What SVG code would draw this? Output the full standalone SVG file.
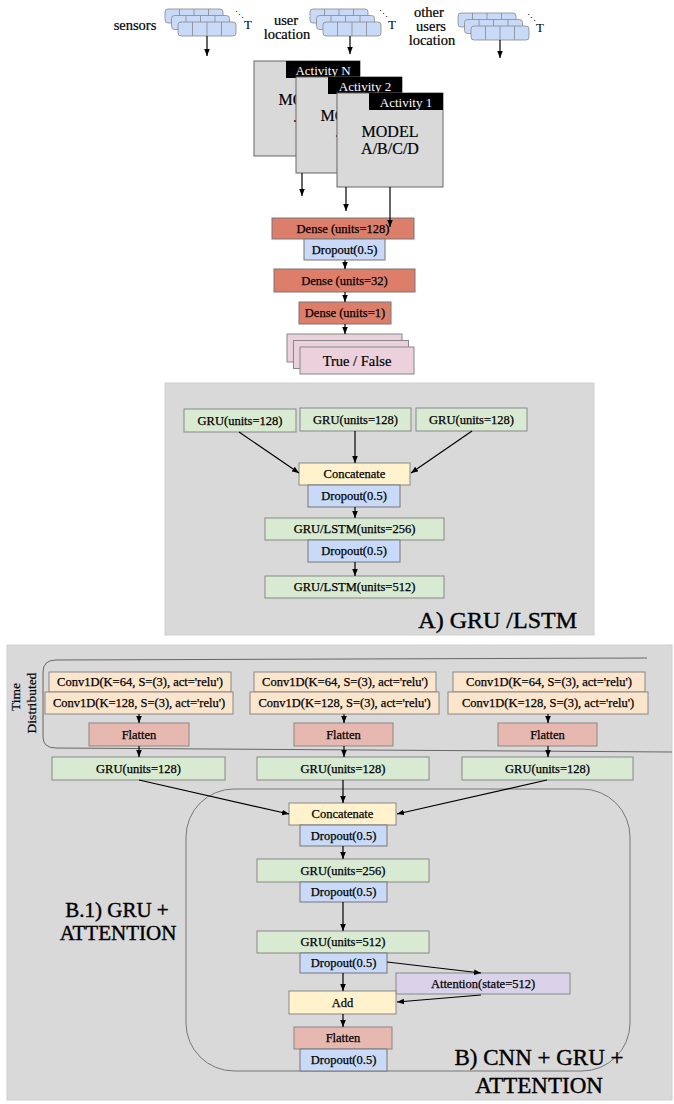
<svg xmlns="http://www.w3.org/2000/svg" width="674" height="1104" viewBox="0 0 674 1104">
<style>
text{font-family:"Liberation Serif","Times New Roman",serif;fill:#000}
.b{font-size:12.5px;text-anchor:middle;dominant-baseline:central;stroke:#000;stroke-width:0.25}
.lbl{font-size:14.5px;text-anchor:middle;dominant-baseline:central;stroke:#000;stroke-width:0.2}
.act{font-size:13px;text-anchor:middle;dominant-baseline:central;fill:#fff}
.mod{font-size:16px;text-anchor:middle;stroke:#000;stroke-width:0.2}
.big{font-size:23px;text-anchor:middle;stroke:#000;stroke-width:0.4}
.dense{fill:#dd7e6b;stroke:#777;stroke-width:1}
.drop{fill:#c9daf8;stroke:#777;stroke-width:1}
.gru{fill:#d9ead3;stroke:#888;stroke-width:1}
.cat{fill:#fff2cc;stroke:#888;stroke-width:1}
.conv{fill:#fce5cd;stroke:#888;stroke-width:1}
.flat{fill:#e6b8af;stroke:#888;stroke-width:1}
.att{fill:#d9d2e9;stroke:#888;stroke-width:1}
.tf{fill:#ead1dc;stroke:#888;stroke-width:1}
.model{fill:#d9d9d9;stroke:#666;stroke-width:1}
.panel{fill:#d9d9d9;stroke:#cfcfcf;stroke-width:1}
.c line,.c path{stroke:#000;stroke-width:1.2;fill:none}
.a{marker-end:url(#ah)}
.cell{fill:#c9daf8;stroke:#888;stroke-width:0.8}
</style>
<defs>
<marker id="ah" viewBox="0 0 10 10" refX="10" refY="5" markerWidth="7" markerHeight="7" orient="auto" markerUnits="userSpaceOnUse">
<path d="M0,1 L10,5 L0,9 z" fill="#000"/>
</marker>
<g id="row">
<rect x="0" y="0" width="58" height="14" rx="3" class="cell"/>
<line x1="14.5" y1="0" x2="14.5" y2="14" stroke="#888" stroke-width="0.8"/>
<line x1="29" y1="0" x2="29" y2="14" stroke="#888" stroke-width="0.8"/>
<line x1="43.5" y1="0" x2="43.5" y2="14" stroke="#888" stroke-width="0.8"/>
</g>
<g id="stack">
<use href="#row"/>
<use href="#row" x="6.5" y="6.5"/>
<use href="#row" x="13" y="13"/>
</g>
</defs>
<rect width="674" height="1104" fill="#fff"/>

<!-- panels -->
<rect id="panelA" x="165" y="383" width="429" height="252" class="panel"/>
<rect id="panelB" x="7" y="645" width="665" height="455" class="panel"/>

<!-- inputs -->
<g id="in-sensors">
<text class="lbl" x="135" y="25">sensors</text>
<use href="#stack" x="165" y="9"/>
<text x="239" y="18" font-family="DejaVu Sans,sans-serif" font-size="9" text-anchor="middle">⋱</text>
<text x="248" y="29" font-size="13" text-anchor="middle">T</text>
</g>
<g id="in-user">
<text class="lbl" x="286" y="20">user</text>
<text class="lbl" x="287" y="34">location</text>
<use href="#stack" x="310" y="9"/>
<text x="383" y="17" font-family="DejaVu Sans,sans-serif" font-size="9" text-anchor="middle">⋱</text>
<text x="392" y="29" font-size="13" text-anchor="middle">T</text>
</g>
<g id="in-others">
<text class="lbl" x="429" y="12">other</text>
<text class="lbl" x="431" y="26">users</text>
<text class="lbl" x="432" y="40">location</text>
<use href="#stack" x="458" y="13"/>
<text x="531" y="21" font-family="DejaVu Sans,sans-serif" font-size="9" text-anchor="middle">⋱</text>
<text x="540" y="32" font-size="13" text-anchor="middle">T</text>
</g>

<!-- models -->
<g id="modelN">
<rect x="254" y="61" width="106" height="95" class="model"/>
<text class="mod" x="307" y="105">MODEL</text>
<text x="293" y="122" font-size="16">.</text>
<rect x="286" y="61" width="74" height="17" fill="#000"/>
<text class="act" x="323" y="70">Activity N</text>
</g>
<g id="model2">
<rect x="296" y="77" width="106" height="96" class="model"/>
<text class="mod" x="349" y="121">MODEL</text>
<text x="335" y="137" font-size="16">.</text>
<rect x="328" y="77" width="74" height="17" fill="#000"/>
<text class="act" x="365" y="86">Activity 2</text>
</g>
<g id="model1">
<rect x="337" y="93" width="106" height="94" class="model"/>
<rect x="369" y="93" width="74" height="17" fill="#000"/>
<text class="act" x="406" y="102">Activity 1</text>
<text class="mod" x="390" y="137">MODEL</text>
<text class="mod" x="390" y="154">A/B/C/D</text>
</g>

<!-- head -->
<g id="dense128"><rect x="272" y="218" width="142" height="21" class="dense"/><text class="b" x="343" y="228.5">Dense (units=128)</text></g>
<g id="drop0"><rect x="304" y="239" width="81" height="21" class="drop"/><text class="b" x="344.5" y="249.5">Dropout(0.5)</text></g>
<g id="dense32"><rect x="274" y="269" width="141" height="23" class="dense"/><text class="b" x="344.5" y="280.5">Dense (units=32)</text></g>
<g id="dense1"><rect x="299" y="302" width="92" height="22" class="dense"/><text class="b" x="345" y="313">Dense (units=1)</text></g>
<g id="truefalse">
<rect x="287" y="334" width="115" height="28" class="tf"/>
<rect x="293.5" y="340.5" width="115" height="28" class="tf"/>
<rect x="300" y="347" width="114" height="27" class="tf"/>
<text class="lbl" x="357" y="360.5">True / False</text>
</g>

<!-- panel A nodes -->
<g id="A-gru1"><rect x="184" y="409" width="112" height="23" class="gru"/><text class="b" x="240" y="420.5">GRU(units=128)</text></g>
<g id="A-gru2"><rect x="300" y="408" width="111" height="23" class="gru"/><text class="b" x="355.5" y="419.5">GRU(units=128)</text></g>
<g id="A-gru3"><rect x="416" y="408" width="111" height="23" class="gru"/><text class="b" x="471.5" y="419.5">GRU(units=128)</text></g>
<g id="A-concat"><rect x="299" y="463" width="111" height="22" class="cat"/><text class="b" x="354.5" y="474">Concatenate</text></g>
<g id="A-drop1"><rect x="308" y="485" width="92" height="22" class="drop"/><text class="b" x="354" y="496">Dropout(0.5)</text></g>
<g id="A-rnn256"><rect x="265" y="518" width="179" height="22" class="gru"/><text class="b" x="354.5" y="529">GRU/LSTM(units=256)</text></g>
<g id="A-drop2"><rect x="308" y="540" width="92" height="22" class="drop"/><text class="b" x="354" y="551">Dropout(0.5)</text></g>
<g id="A-rnn512"><rect x="265" y="576" width="179" height="22" class="gru"/><text class="b" x="354.5" y="587">GRU/LSTM(units=512)</text></g>
<text x="577" y="628" font-size="24" text-anchor="end" stroke="#000" stroke-width="0.4">A)  GRU /LSTM</text>

<!-- panel B -->
<path d="M647,658 L56,660 Q43,660 43,672 L43,737 Q43,748 56,748 L672,752" fill="none" stroke="#666" stroke-width="1"/>
<text font-size="13.5" text-anchor="middle" dominant-baseline="central" stroke="#000" stroke-width="0.2" transform="translate(15,697) rotate(-90)">Time</text>
<text font-size="13.5" text-anchor="middle" dominant-baseline="central" stroke="#000" stroke-width="0.2" transform="translate(31,703) rotate(-90)">Distributed</text>
<rect x="186" y="789" width="444" height="282" rx="48" ry="48" fill="none" stroke="#777" stroke-width="1"/>

<g id="B-conv64-1"><rect x="49" y="672" width="182" height="20" class="conv"/><text class="b" x="140" y="682">Conv1D(K=64, S=(3), act='relu')</text></g>
<g id="B-conv128-1"><rect x="45" y="692" width="188" height="22" class="conv"/><text class="b" x="139" y="703">Conv1D(K=128, S=(3), act='relu')</text></g>
<g id="B-conv64-2"><rect x="254" y="672" width="182" height="20" class="conv"/><text class="b" x="345" y="682">Conv1D(K=64, S=(3), act='relu')</text></g>
<g id="B-conv128-2"><rect x="250" y="692" width="189" height="22" class="conv"/><text class="b" x="344.5" y="703">Conv1D(K=128, S=(3), act='relu')</text></g>
<g id="B-conv64-3"><rect x="453" y="672" width="192" height="20" class="conv"/><text class="b" x="549" y="682">Conv1D(K=64, S=(3), act='relu')</text></g>
<g id="B-conv128-3"><rect x="448" y="692" width="200" height="22" class="conv"/><text class="b" x="548" y="703">Conv1D(K=128, S=(3), act='relu')</text></g>
<g id="B-flat1"><rect x="89" y="723" width="100" height="23" class="flat"/><text class="b" x="139" y="734.5">Flatten</text></g>
<g id="B-flat2"><rect x="294" y="723" width="99" height="23" class="flat"/><text class="b" x="343.5" y="734.5">Flatten</text></g>
<g id="B-flat3"><rect x="498" y="723" width="99" height="23" class="flat"/><text class="b" x="547.5" y="734.5">Flatten</text></g>
<g id="B-gru1"><rect x="52" y="757" width="173" height="23" class="gru"/><text class="b" x="138.5" y="768.5">GRU(units=128)</text></g>
<g id="B-gru2"><rect x="257" y="757" width="172" height="23" class="gru"/><text class="b" x="343" y="768.5">GRU(units=128)</text></g>
<g id="B-gru3"><rect x="462" y="757" width="171" height="23" class="gru"/><text class="b" x="547.5" y="768.5">GRU(units=128)</text></g>

<g id="B-concat"><rect x="289" y="803" width="107" height="22" class="cat"/><text class="b" x="342.5" y="814">Concatenate</text></g>
<g id="B-drop1"><rect x="300" y="825" width="87" height="21" class="drop"/><text class="b" x="343.5" y="835.5">Dropout(0.5)</text></g>
<g id="B-gru256"><rect x="257" y="859" width="172" height="23" class="gru"/><text class="b" x="343" y="870.5">GRU(units=256)</text></g>
<g id="B-drop2"><rect x="300" y="882" width="87" height="20" class="drop"/><text class="b" x="343.5" y="892">Dropout(0.5)</text></g>
<g id="B-gru512"><rect x="257" y="931" width="172" height="22" class="gru"/><text class="b" x="343" y="942">GRU(units=512)</text></g>
<g id="B-drop3"><rect x="300" y="953" width="87" height="20" class="drop"/><text class="b" x="343.5" y="963">Dropout(0.5)</text></g>
<g id="B-att"><rect x="396" y="973" width="174" height="21" class="att"/><text class="b" x="483" y="983.5">Attention(state=512)</text></g>
<g id="B-add"><rect x="289" y="991" width="107" height="23" class="cat"/><text class="b" x="342.5" y="1002.5">Add</text></g>
<g id="B-flat4"><rect x="294" y="1027" width="98" height="22" class="flat"/><text class="b" x="343" y="1038">Flatten</text></g>
<g id="B-drop4"><rect x="300" y="1049" width="87" height="22" class="drop"/><text class="b" x="343.5" y="1060">Dropout(0.5)</text></g>

<text font-size="21" text-anchor="middle" x="117" y="917" stroke="#000" stroke-width="0.4">B.1) GRU +</text>
<text font-size="21" text-anchor="middle" x="118" y="940" stroke="#000" stroke-width="0.4">ATTENTION</text>
<text class="big" x="539" y="1065">B) CNN + GRU +</text>
<text class="big" x="539" y="1093">ATTENTION</text>

<!-- connectors -->
<g id="connectors" class="c">
<line class="a" x1="207" y1="36" x2="207" y2="56"/>
<line class="a" x1="350" y1="36" x2="350" y2="54"/>
<line class="a" x1="500" y1="40" x2="500" y2="58"/>
<line class="a" x1="302" y1="173" x2="302" y2="196"/>
<line class="a" x1="346" y1="187" x2="346" y2="211"/>
<line class="a" x1="390" y1="187" x2="390" y2="227"/>
<line class="a" x1="345" y1="260" x2="345" y2="269"/>
<line class="a" x1="345" y1="292" x2="345" y2="302"/>
<line class="a" x1="345" y1="324" x2="345" y2="334"/>
<line class="a" x1="239" y1="432" x2="299" y2="473"/>
<line class="a" x1="355" y1="431" x2="355" y2="463"/>
<line class="a" x1="472" y1="431" x2="411" y2="473"/>
<line class="a" x1="355" y1="507" x2="355" y2="518"/>
<line class="a" x1="355" y1="562" x2="355" y2="576"/>
<line class="a" x1="139" y1="714" x2="139" y2="723"/>
<line class="a" x1="344" y1="714" x2="344" y2="723"/>
<line class="a" x1="548" y1="714" x2="548" y2="723"/>
<line class="a" x1="139" y1="746" x2="139" y2="757"/>
<line class="a" x1="344" y1="746" x2="344" y2="757"/>
<line class="a" x1="548" y1="746" x2="548" y2="757"/>
<line class="a" x1="139" y1="780" x2="289" y2="814"/>
<line class="a" x1="343" y1="780" x2="343" y2="803"/>
<line class="a" x1="547" y1="780" x2="397" y2="814"/>
<line class="a" x1="343" y1="846" x2="343" y2="859"/>
<line class="a" x1="343" y1="902" x2="343" y2="931"/>
<line class="a" x1="343" y1="973" x2="343" y2="991"/>
<line class="a" x1="343" y1="1014" x2="343" y2="1027"/>
<line class="a" x1="387" y1="962" x2="481" y2="973"/>
<line class="a" x1="481" y1="995" x2="397" y2="1002"/>
</g>
</svg>
